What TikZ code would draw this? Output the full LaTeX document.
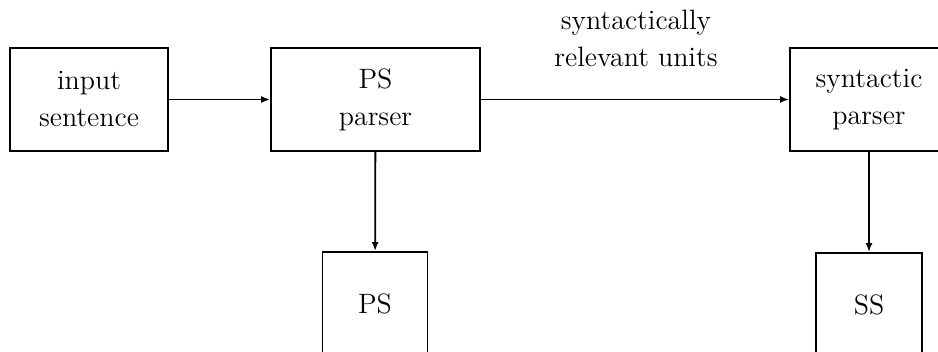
\documentclass[tikz,border=0pt]{standalone}
\usetikzlibrary{arrows.meta}
\begin{document}
\begin{tikzpicture}[x=0.5pt,y=-0.5pt,
  blockbox/.style={draw,line width=0.9pt,inner sep=0pt,align=center,
    font=\fontsize{14}{18.5}\selectfont},
  flow/.style={line width=0.9pt,-{Latex[length=4.5pt,width=3.5pt]}}]
% Bildausschnitt (Pixel des Originals)
\useasboundingbox (0,0) rectangle (938,352);
\clip (0,0) rectangle (938,352);

% Obere Reihe
\def\H{103}   % Hoehe der Bloecke
\node[blockbox,minimum width=79pt,minimum height=\H*0.5pt] (input) at (89,99.5) {input\\sentence};
\node[blockbox,minimum width=104.5pt,minimum height=\H*0.5pt] (psparser) at (375.5,99.5) {PS\\parser};
\node[blockbox,minimum width=79pt,minimum height=\H*0.5pt] (synparser) at (869,99.5) {syntactic\\parser};

% Untere Reihe (unten abgeschnitten)
\node[blockbox,minimum width=52.5pt,minimum height=52pt] (ps) at (375,304) {PS};
\node[blockbox,minimum width=53pt,minimum height=52pt] (ss) at (869,305) {SS};

% Verbindungen
\draw[flow] (input) -- (psparser);
\draw[flow] (psparser) -- (synparser);
\draw[flow] (psparser) -- (ps);
\draw[flow] (synparser) -- (ss);

% Beschriftung der mittleren Verbindung
\node[align=center,font=\fontsize{14}{18.5}\selectfont,inner sep=0pt] (units) at (636,38) {syntactically\\relevant units};
\end{tikzpicture}
\end{document}
